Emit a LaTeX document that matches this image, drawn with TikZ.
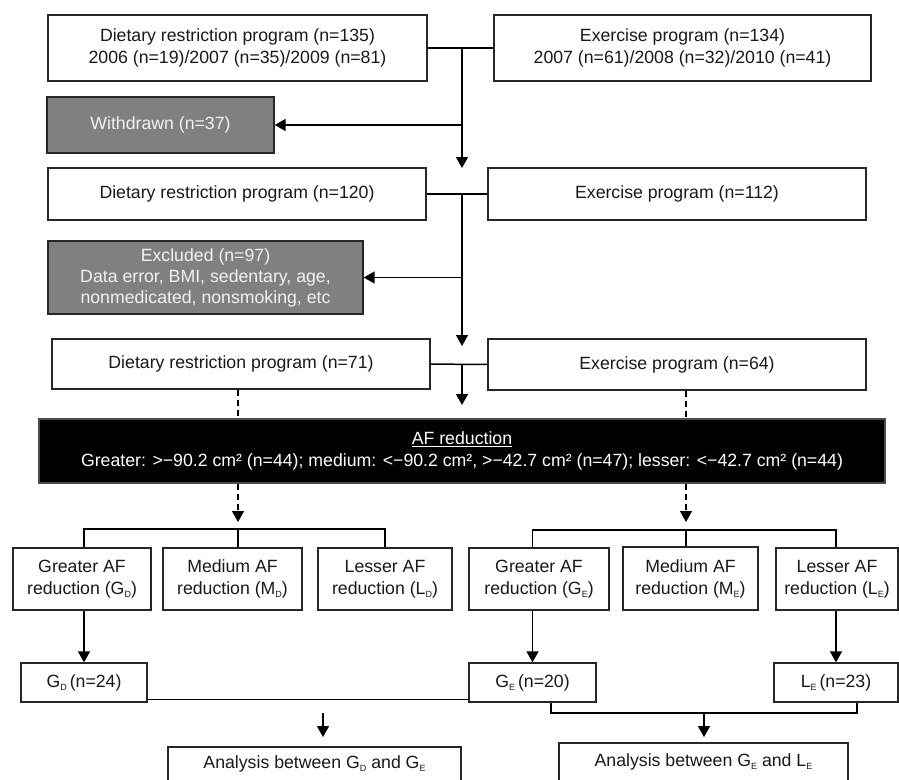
\documentclass[tikz,border=0pt]{standalone}
\usepackage{fontspec}
\setmainfont{Liberation Sans}
\usetikzlibrary{arrows.meta,calc}
\newcommand\sbs[1]{\raisebox{-3pt}{\fontsize{9}{9}\selectfont #1}}
\begin{document}
\begin{tikzpicture}[x=1pt,y=-1pt,
  box/.style={draw=black!85, line width=1.4pt, fill=white, inner sep=0pt, align=center,
    font=\fontsize{17.7}{22}\selectfont, text=black!90},
  graybox/.style={box, fill=black!50, text=white!95!black},
  blackbox/.style={box, fill=black, draw=black!70, text=white},
  conn/.style={line width=1.5pt, black},
  arr/.style={conn, -{Triangle[width=12pt,length=11pt]}},
  dsh/.style={conn, line width=1.2pt, dash pattern=on 6pt off 4pt}]
\useasboundingbox (0,0) rectangle (899,779);
\clip (0,0) rectangle (899,779);
% row 1
\node[box, minimum width=379pt, minimum height=66pt] (DR1) at (237.5,48)
  {Dietary restriction program (n=135)\\2006 (n=19)/2007 (n=35)/2009 (n=81)};
\node[box, minimum width=377pt, minimum height=66pt] (EX1) at (682.5,48)
  {Exercise program (n=134)\\2007 (n=61)/2008 (n=32)/2010 (n=41)};
\node[graybox, minimum width=227pt, minimum height=56pt] (WD) at (160.5,125) {Withdrawn (n=37)};
% row 2
\node[box, minimum width=378pt, minimum height=52pt] (DR2) at (237,194) {Dietary restriction program (n=120)};
\node[box, minimum width=378pt, minimum height=52pt] (EX2) at (677,194) {Exercise program (n=112)};
\node[graybox, minimum width=315pt, minimum height=73pt, font=\fontsize{17.7}{21}\selectfont] (EXC) at (205.5,277.5)
  {Excluded (n=97)\\Data error, BMI, sedentary, age,\\nonmedicated, nonsmoking, etc};
% row 3
\node[box, minimum width=378pt, minimum height=50pt] (DR3) at (241,364) {Dietary restriction program (n=71)};
\node[box, minimum width=378pt, minimum height=51pt] (EX3) at (677,364.5) {Exercise program (n=64)};
% AF box
\node[blackbox, minimum width=846pt, minimum height=64pt, font=\fontsize{17.7}{22}\selectfont] (AF) at (462,451)
  {\underline{AF reduction}\\Greater: >−90.2 cm² (n=44); medium: <−90.2 cm², >−42.7 cm² (n=47); lesser: <−42.7 cm² (n=44)};
% groups
\node[box, minimum width=138pt, minimum height=62pt] (GrD) at (82,579) {Greater AF\\reduction (G\sbs{D})};
\node[box, minimum width=139pt, minimum height=62pt] (MeD) at (232.5,579) {Medium AF\\reduction (M\sbs{D})};
\node[box, minimum width=134pt, minimum height=62pt] (LeD) at (385,579) {Lesser AF\\reduction (L\sbs{D})};
\node[box, minimum width=140pt, minimum height=62pt] (GrE) at (539,579) {Greater AF\\reduction (G\sbs{E})};
\node[box, minimum width=135pt, minimum height=63pt] (MeE) at (690.5,578.5) {Medium AF\\reduction (M\sbs{E})};
\node[box, minimum width=122pt, minimum height=62pt] (LeE) at (837,579) {Lesser AF\\reduction (L\sbs{E})};
% selected
\node[box, minimum width=126pt, minimum height=39pt] (GD) at (84,682.5) {G\sbs{D}\,(n=24)};
\node[box, minimum width=127pt, minimum height=39pt] (GE) at (532.5,682.5) {G\sbs{E}\,(n=20)};
\node[box, minimum width=124pt, minimum height=39pt] (LE) at (836,682.5) {L\sbs{E}\,(n=23)};
% analyses
\node[box, minimum width=293pt, minimum height=34pt] (AN1) at (314.5,764) {Analysis between G\sbs{D} and G\sbs{E}};
\node[box, minimum width=289pt, minimum height=38pt] (AN2) at (703.5,762) {Analysis between G\sbs{E} and L\sbs{E}};
% helper coordinates
\coordinate (t1) at (462,48);
\coordinate (a1) at (462,168);
\coordinate (w1) at (462,125);
\coordinate (t2) at (462,194);
\coordinate (a2) at (462,346);
\coordinate (w2) at (462,277.5);
\coordinate (t3) at (462,364);
\coordinate (a3) at (462,405);
\coordinate (dl) at (238,0);
\coordinate (dr) at (686,0);
\coordinate (bl) at (238,522);
\coordinate (br) at (686,522);
\coordinate (kl) at (0,529);
\coordinate (kr) at (0,530);
\coordinate (s1) at (323,713);
\coordinate (e1) at (323,737);
\coordinate (j1) at (551,0);
\coordinate (j2) at (704,713);
\coordinate (j3) at (857,0);
\coordinate (e2) at (704,737);
% connectors
\draw[conn] (DR1) -- (EX1);
\draw[arr] (t1) -- (a1);
\draw[arr] (w1) -- (WD.east);
\draw[conn] (DR2) -- (EX2);
\draw[arr] (t2) -- (a2);
\draw[arr] (w2) -- (EXC.east);
\draw[conn] (DR3) -- (EX3);
\draw[arr] (t3) -- (a3);
\draw[dsh] (DR3.south -| dl) -- (AF.north -| dl);
\draw[dsh] (EX3.south -| dr) -- (AF.north -| dr);
\draw[dsh, -{Triangle[width=12pt,length=11pt]}] (AF.south -| dl) -- (bl);
\draw[dsh, -{Triangle[width=12pt,length=11pt]}] (AF.south -| dr) -- (br);
\draw[conn] (GD.north |- GrD.north) |- (kl -| LeD.north) -- (LeD.north);
\draw[conn] (MeD.north -| dl) -- (kl -| dl);
\draw[conn] (GE.north |- GrE.north) |- (kr -| LE.north) -- (LE.north |- LeE.north);
\draw[conn] (MeE.north -| dr) -- (kr -| dr);
\draw[arr] (GD.north |- GrD.south) -- (GD.north);
\draw[arr] (GE.north |- GrE.south) -- (GE.north);
\draw[arr] (LE.north |- LeE.south) -- (LE.north);
\draw[conn] ($(GD.south east)+(0,-3)$) -- ($(GE.south west)+(0,-3)$);
\draw[arr] (s1) -- (e1);
\draw[conn] (GE.south -| j1) |- (j2) -| (LE.south -| j3);
\draw[arr] (j2) -- (e2);
\end{tikzpicture}
\end{document}
